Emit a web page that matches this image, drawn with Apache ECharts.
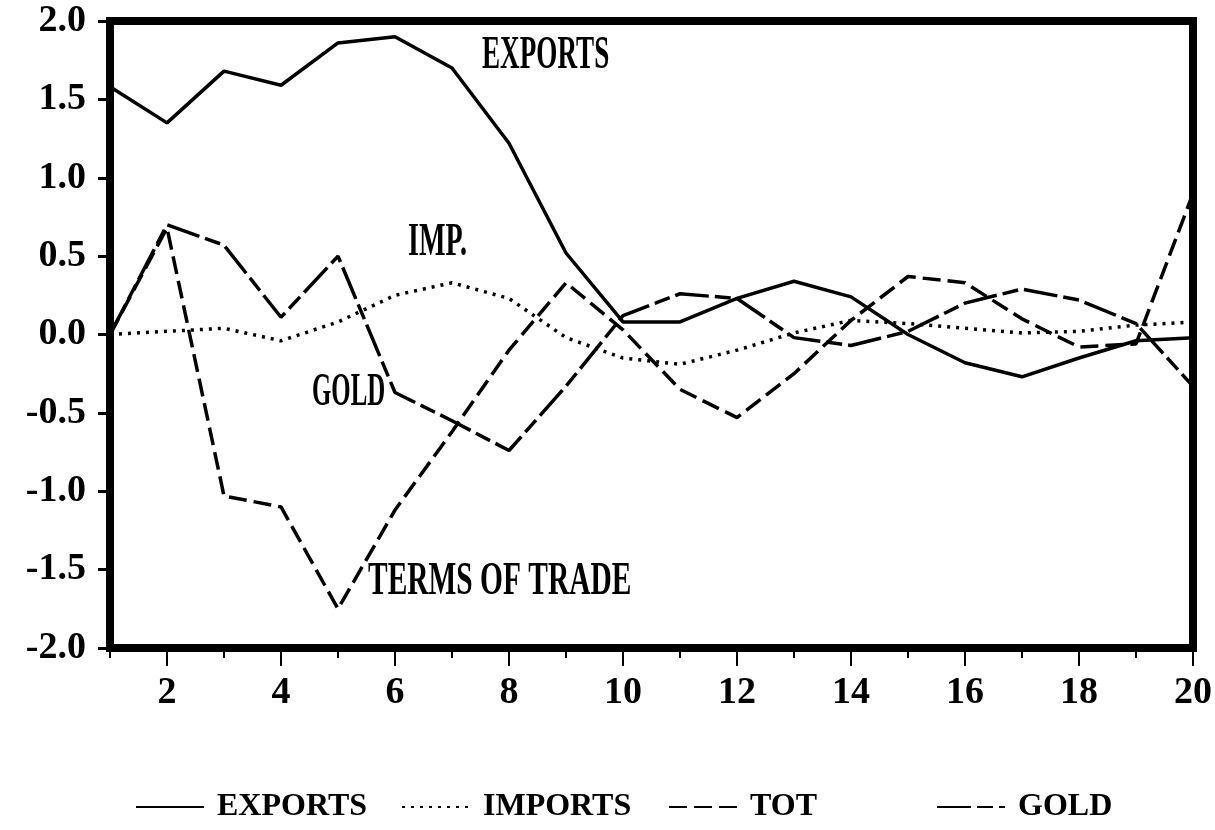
<!DOCTYPE html>
<html>
<head>
<meta charset="utf-8">
<title>Exports, imports, terms of trade and gold</title>
<script src="https://cdn.jsdelivr.net/npm/echarts@6.0.0/dist/echarts.min.js"></script>
<style>
  html, body { margin: 0; padding: 0; background: #fff; }
  #chart { width: 1215px; height: 830px; }
</style>
</head>
<body>
<div id="chart"></div>
<script>
// periods after the shock
const periods = [1, 2, 3, 4, 5, 6, 7, 8, 9, 10, 11, 12, 13, 14, 15, 16, 17, 18, 19, 20]

// responses
const exportsResp = [1.58, 1.35, 1.68, 1.59, 1.86, 1.9, 1.7, 1.22, 0.52, 0.08, 0.08, 0.23, 0.34, 0.24, 0.0, -0.18, -0.27, -0.15, -0.04, -0.02]
const importsResp = [0.0, 0.02, 0.04, -0.04, 0.08, 0.25, 0.33, 0.23, -0.02, -0.15, -0.19, -0.1, 0.01, 0.09, 0.07, 0.04, 0.01, 0.02, 0.06, 0.08]
const totResp = [0.0, 0.68, -1.03, -1.1, -1.75, -1.12, -0.62, -0.1, 0.33, 0.03, -0.35, -0.53, -0.25, 0.09, 0.37, 0.33, 0.1, -0.08, -0.06, 0.9]
const goldResp = [0.0, 0.7, 0.57, 0.11, 0.5, -0.37, -0.55, -0.74, -0.33, 0.12, 0.26, 0.23, -0.02, -0.07, 0.02, 0.2, 0.29, 0.22, 0.07, -0.33]

// x axis: labelled (long) ticks and short in-between ticks
const xMajorTicks = [2, 4, 6, 8, 10, 12, 14, 16, 18, 20]
const xMinorTicks = [1, 3, 5, 7, 9, 11, 13, 15, 17, 19]

const FONT = "'Liberation Serif', 'DejaVu Serif', serif"
const LABEL_FONT = 'bold 46px "Liberation Serif", serif'

const pairs = arr => periods.map((p, i) => [p, arr[i]])

const chart = echarts.init(document.getElementById('chart'))

const makeSeries = (name, data, type) => ({
  name,
  type: 'line',
  data: pairs(data),
  symbol: 'none',
  smooth: false,
  itemStyle: { color: '#000' },
  lineStyle: { color: '#000', width: 3.5, type }
})

const makeLegend = (name, left) => ({
  data: [name],
  left,
  top: 786,
  itemWidth: 68,
  itemHeight: 14,
  itemStyle: { opacity: 0 },
  textStyle: { fontFamily: FONT, fontWeight: 'bold', fontSize: 32, color: '#000', padding: [0, 0, 0, 8] }
})

// in-plot annotations (narrow tall lettering)
const note = (text, x, y, scaleX) => ({
  type: 'text',
  x,
  y,
  scaleX,
  z: 10,
  style: { text, font: LABEL_FONT, fill: '#000', verticalAlign: 'middle' }
})

const option = {
  animation: false,
  backgroundColor: '#fff',
  grid: {
    left: 110,
    right: 14,
    top: 21,
    bottom: 182,
    show: true,
    borderColor: '#000',
    borderWidth: 8
  },
  xAxis: [
    {
      type: 'value',
      min: 1,
      max: 20,
      position: 'bottom',
      axisLine: { show: false, onZero: false },
      splitLine: { show: false },
      axisTick: { customValues: xMajorTicks, length: 18, lineStyle: { color: '#000', width: 2 } },
      axisLabel: {
        customValues: xMajorTicks,
        margin: 26,
        fontFamily: FONT,
        fontWeight: 'bold',
        fontSize: 38,
        color: '#000'
      }
    },
    {
      type: 'value',
      min: 1,
      max: 20,
      position: 'bottom',
      axisLine: { show: false, onZero: false },
      splitLine: { show: false },
      axisTick: { customValues: xMinorTicks, length: 10, lineStyle: { color: '#000', width: 2 } },
      axisLabel: { show: false }
    }
  ],
  yAxis: {
    type: 'value',
    min: -2,
    max: 2,
    interval: 0.5,
    axisLine: { show: false, onZero: false },
    splitLine: { show: false },
    axisTick: { length: 12, lineStyle: { color: '#000', width: 3 } },
    axisLabel: {
      formatter: v => v.toFixed(1),
      margin: 24,
      fontFamily: FONT,
      fontWeight: 'bold',
      fontSize: 38,
      color: '#000'
    }
  },
  legend: [
    makeLegend('EXPORTS', 130),
    makeLegend('IMPORTS', 396),
    makeLegend('TOT', 663),
    makeLegend('GOLD', 931)
  ],
  graphic: [
    note('EXPORTS', 482, 56, 0.59),
    note('IMP.', 408, 243, 0.61),
    note('GOLD', 312, 393, 0.54),
    note('TERMS OF TRADE', 368, 582, 0.64)
  ],
  series: [
    makeSeries('EXPORTS', exportsResp, 'solid'),
    makeSeries('IMPORTS', importsResp, [3, 6]),
    makeSeries('TOT', totResp, [18, 7]),
    makeSeries('GOLD', goldResp, [34, 6, 16, 6])
  ]
}

chart.setOption(option)

window.addEventListener('resize', () => chart.resize())
</script>
</body>
</html>
